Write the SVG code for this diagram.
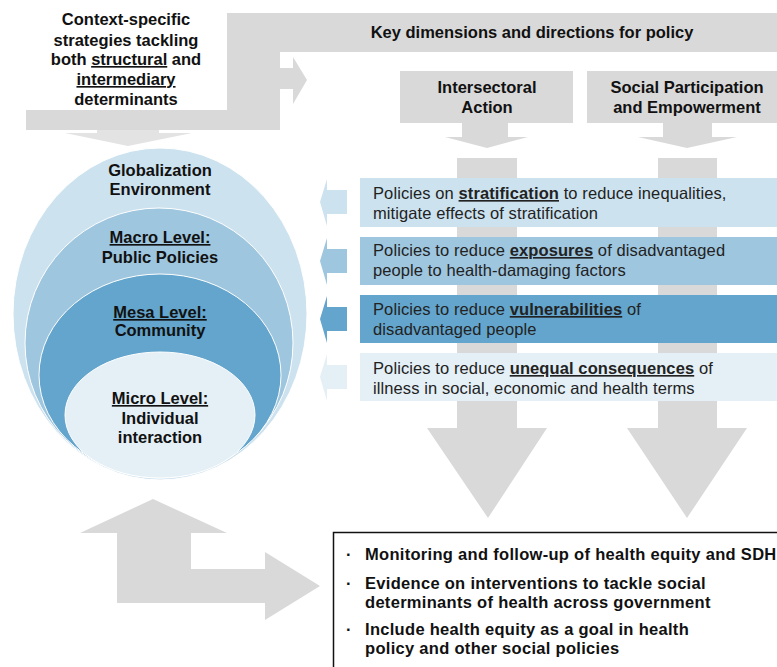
<svg xmlns="http://www.w3.org/2000/svg" width="777" height="667" viewBox="0 0 777 667">
<style>
.g{fill:#d9d9d9}
.t{font-family:"Liberation Sans",Arial,sans-serif;font-size:16.5px;font-weight:bold;fill:#111}
.c{text-anchor:middle}
.p{font-family:"Liberation Sans",Arial,sans-serif;font-size:16.5px;letter-spacing:0.1px;fill:#222}
.b{font-weight:bold}
.u{text-decoration:underline}
.bl{font-family:"Liberation Sans",Arial,sans-serif;font-size:16.5px;letter-spacing:0.3px;font-weight:bold;fill:#111}
</style>
<g id="connectors">
<polygon class="g" points="227,13 777,13 777,52 280,52 280,68 293,68 293,57 307,80 293,104 293,89 280,89 280,130 26,130 26,110 227,110"/>
<polygon fill="#e3e3e3" points="97,130 159,130 159,133 192,133 128,146 65,133 97,133"/>
<polygon class="g" points="462,123 508,123 508,137 528,137 487,148 445,137 462,137"/>
<polygon class="g" points="663,123 712,123 712,137 737,137 687,148 638,137 663,137"/>
<polygon class="g" points="457,158 517,158 517,428 547,428 488,518 427,428 457,428"/>
<polygon class="g" points="658,158 717,158 717,428 747,428 687,518 627,428 658,428"/>
<polygon class="g" points="153,499 227,533 191,533 191,569 265,569 265,552 320,586 265,620 265,603 117,603 117,533 80,533"/>
<polygon fill="#cde2ef" points="347,190 327,190 327,179 320,202 327,226 327,214 347,214"/>
<polygon fill="#9ec6df" points="347,249 327,249 327,238 320,261 327,285 327,273 347,273"/>
<polygon fill="#63a5cc" points="347,307 327,307 327,296 320,319 327,343 327,331 347,331"/>
<polygon fill="#e4eff6" points="347,365 327,365 327,354 320,377 327,401 327,389 347,389"/>
</g>
<g id="context-text">
<text class="t c" x="126" y="25">Context-specific</text>
<text class="t c" x="126" y="46">strategies tackling</text>
<text class="t c" x="126" y="65">both <tspan class="u">structural</tspan> and</text>
<text class="t c" x="126" y="85"><tspan class="u">intermediary</tspan></text>
<text class="t c" x="126" y="105">determinants</text>
</g>
<g id="key-dimensions">
<text class="t c" x="532" y="38">Key dimensions and directions for policy</text>
</g>
<g id="intersectoral">
<rect class="g" x="400" y="71" width="173" height="52"/>
<text class="t c" x="487" y="93">Intersectoral</text>
<text class="t c" x="487" y="113">Action</text>
</g>
<g id="social">
<rect class="g" x="587" y="71" width="190" height="52"/>
<text class="t c" x="687" y="93">Social Participation</text>
<text class="t c" x="687" y="113">and Empowerment</text>
</g>
<g id="levels">
<ellipse cx="160" cy="314" rx="147" ry="166" fill="#cde2ef" stroke="#fff" stroke-width="1"/>
<ellipse cx="159" cy="343" rx="134" ry="135" fill="#9ec6df" stroke="#fff" stroke-width="1"/>
<ellipse cx="160" cy="375" rx="121" ry="101" fill="#63a5cc" stroke="#fff" stroke-width="1"/>
<ellipse cx="160" cy="415" rx="95" ry="63" fill="#e4eff6" stroke="#fff" stroke-width="1"/>
<text class="t c" x="160" y="176">Globalization</text>
<text class="t c" x="160" y="195">Environment</text>
<text class="t c" x="160" y="243"><tspan class="u">Macro Level:</tspan></text>
<text class="t c" x="160" y="263">Public Policies</text>
<text class="t c" x="160" y="318"><tspan class="u">Mesa Level:</tspan></text>
<text class="t c" x="160" y="336">Community</text>
<text class="t c" x="160" y="404"><tspan class="u">Micro Level:</tspan></text>
<text class="t c" x="160" y="424">Individual</text>
<text class="t c" x="160" y="443">interaction</text>
</g>
<g id="policy-stratification">
<rect x="360" y="178" width="417" height="49" fill="#cde2ef"/>
<text class="p" x="373" y="199">Policies on <tspan class="b u">stratification</tspan> to reduce inequalities,</text>
<text class="p" x="373" y="219">mitigate effects of stratification</text>
</g>
<g id="policy-exposures">
<rect x="360" y="237" width="417" height="48" fill="#9ec6df"/>
<text class="p" x="373" y="256">Policies to reduce <tspan class="b u">exposures</tspan> of disadvantaged</text>
<text class="p" x="373" y="276">people to health-damaging factors</text>
</g>
<g id="policy-vulnerabilities">
<rect x="360" y="295" width="417" height="48" fill="#63a5cc"/>
<text class="p" x="373" y="315" fill="#111">Policies to reduce <tspan class="b u">vulnerabilities</tspan> of</text>
<text class="p" x="373" y="335">disadvantaged people</text>
</g>
<g id="policy-consequences">
<rect x="360" y="353" width="417" height="48" fill="#e4eff6"/>
<text class="p" x="373" y="374">Policies to reduce <tspan class="b u">unequal consequences</tspan> of</text>
<text class="p" x="373" y="394">illness in social, economic and health terms</text>
</g>
<g id="outcomes">
<rect x="333.5" y="532.5" width="450" height="140" fill="#fff" stroke="#111" stroke-width="1.5"/>
<text class="bl" x="346" y="560">·</text>
<text class="bl" x="365" y="560">Monitoring and follow-up of health equity and SDH</text>
<text class="bl" x="346" y="589">·</text>
<text class="bl" x="365" y="589">Evidence on interventions to tackle social</text>
<text class="bl" x="365" y="608">determinants of health across government</text>
<text class="bl" x="346" y="635">·</text>
<text class="bl" x="365" y="635">Include health equity as a goal in health</text>
<text class="bl" x="365" y="654">policy and other social policies</text>
</g>
</svg>
